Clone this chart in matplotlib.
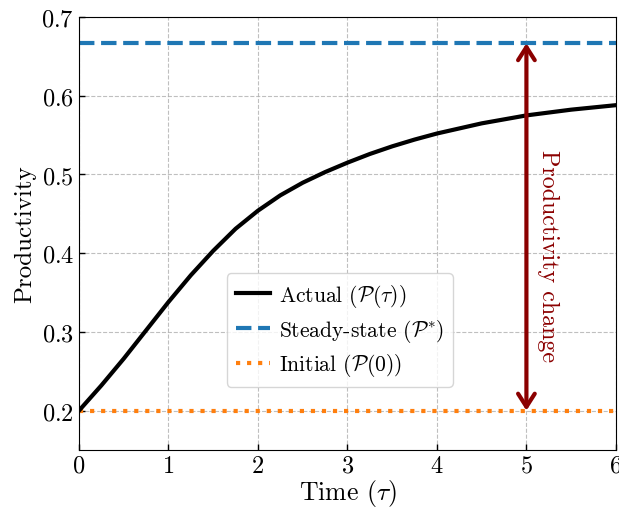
import numpy as np
import matplotlib
matplotlib.use("Agg")
import matplotlib.pyplot as plt

plt.rcParams['font.family'] = 'serif'
plt.rcParams['font.serif'] = ['cmr10']
plt.rcParams['mathtext.fontset'] = 'cm'
plt.rcParams['axes.formatter.use_mathtext'] = True

# productivity trajectory P(tau)
tau = [0.0, 0.25, 0.5, 0.75, 1.0, 1.25, 1.5, 1.75, 2.0, 2.25, 2.5, 2.75,
       3.0, 3.25, 3.5, 3.75, 4.0, 4.5, 5.0, 5.5, 6.0]
p_actual = [0.200, 0.232, 0.266, 0.302, 0.338, 0.372, 0.403, 0.431, 0.454,
            0.4735, 0.4895, 0.503, 0.515, 0.526, 0.5357, 0.5443, 0.552, 0.5649,
            0.575, 0.5823, 0.588]
p_star = 2 / 3
p_init = 0.2
tau_change = 5

fig = plt.figure(figsize=(6.19, 5.10), dpi=100)
ax = fig.add_axes([0.1276, 0.1157, 0.8674, 0.849])

ax.plot(tau, p_actual, color='black', lw=3, label=r'Actual $(\mathcal{P}(\tau))$', zorder=3)
ax.axhline(p_star, color='tab:blue', ls='--', lw=3, label=r'Steady-state $(\mathcal{P}^{*})$')
ax.axhline(p_init, color='tab:orange', ls=':', lw=3, label=r'Initial $(\mathcal{P}(0))$')

# double arrow showing the change
ax.annotate('', xy=(tau_change, p_star), xytext=(tau_change, p_init),
            arrowprops=dict(arrowstyle='<->,head_width=0.3,head_length=0.47',
                            color='darkred', lw=3, mutation_scale=20,
                            shrinkA=0, shrinkB=0), zorder=4)
ax.text(5.24, 0.397, 'Productivity change', rotation=-90, color='darkred',
        fontsize=17.3, ha='center', va='center')

ax.set_xlim(0, 6)
ax.set_ylim(0.15, 0.7)
ax.set_yticks([0.2, 0.3, 0.4, 0.5, 0.6, 0.7])
ax.set_xticks(range(7))
ax.tick_params(direction='in', labelsize=17.5, length=4, width=1)
ax.set_xlabel(r'Time $(\tau)$', fontsize=18.5, labelpad=0)
ax.set_ylabel('Productivity', fontsize=18)
ax.grid(True, ls='--', color='#b0b0b0', lw=0.8, alpha=0.8)

ax.legend(loc='center', bbox_to_anchor=(0.486, 0.277), fontsize=15.5,
          handlelength=1.6, handletextpad=0.4, labelspacing=0.35)

fig.savefig('out.png', dpi=100)
